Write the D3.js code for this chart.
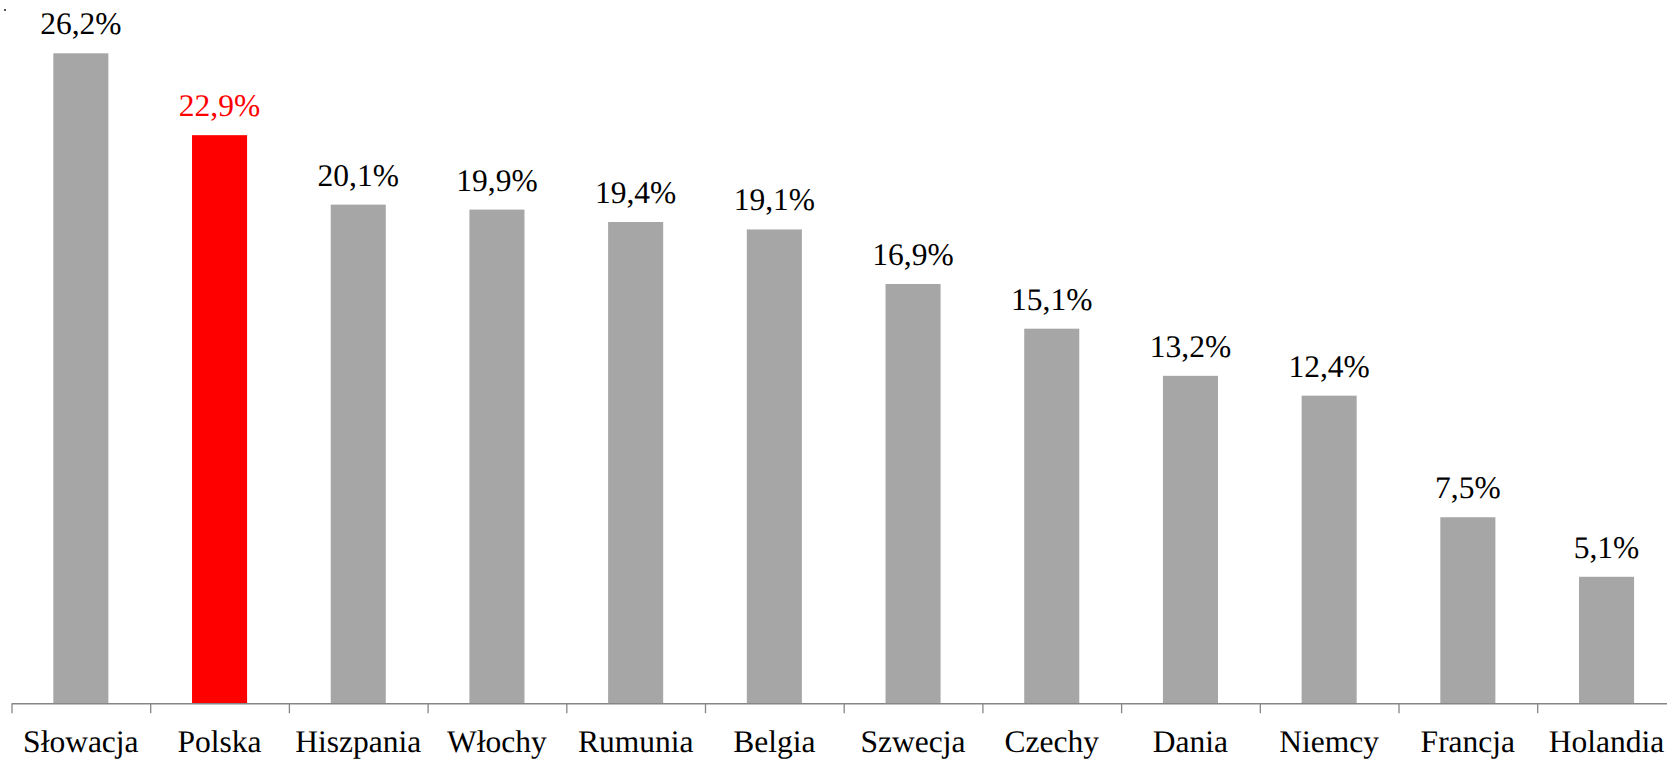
<!DOCTYPE html>
<html>
<head>
<meta charset="utf-8">
<script src="https://cdn.jsdelivr.net/npm/d3@7"></script>
<style>
  html, body { margin: 0; padding: 0; background: #fff; }
  svg { display: block; }
</style>
</head>
<body>
<svg id="chart" width="1667" height="759"></svg>
<script>
// Country names and shares (%)
const categories = ["Słowacja", "Polska", "Hiszpania", "Włochy", "Rumunia", "Belgia",
                    "Szwecja", "Czechy", "Dania", "Niemcy", "Francja", "Holandia"];
const values = [26.2, 22.9, 20.1, 19.9, 19.4, 19.1, 16.9, 15.1, 13.2, 12.4, 7.5, 5.1];
const valueLabels = ["26,2%", "22,9%", "20,1%", "19,9%", "19,4%", "19,1%",
                     "16,9%", "15,1%", "13,2%", "12,4%", "7,5%", "5,1%"];
const highlighted = ["Polska"];

const svg = d3.select("#chart");
const fontFamily = '"Liberation Serif", "Times New Roman", serif';

const left = 11.5, step = 138.7;
const baseY = 703.3;

const x = d3.scaleBand()
  .domain(categories)
  .range([left, left + step * categories.length])
  .padding(0);

const y = d3.scaleLinear()
  .domain([0, 26.2])
  .range([baseY, 53.3]);

const barW = x.bandwidth() * 0.397;

// bars
svg.append("g").selectAll("rect")
  .data(categories)
  .join("rect")
  .attr("x", (d) => x(d) + (x.bandwidth() - barW) / 2)
  .attr("y", (d, i) => y(values[i]))
  .attr("width", barW)
  .attr("height", (d, i) => baseY - y(values[i]))
  .attr("fill", (d) => highlighted.includes(d) ? "#FF0000" : "#A6A6A6");

// value labels above bars
svg.append("g")
  .style("font-family", fontFamily)
  .selectAll("text")
  .data(categories)
  .join("text")
  .attr("x", (d) => x(d) + x.bandwidth() / 2)
  .attr("y", (d, i) => y(values[i]) - 19)
  .attr("text-anchor", "middle")
  .style("font-family", fontFamily)
  .style("font-size", "31.5px")
  .style("text-rendering", "geometricPrecision")
  .attr("fill", (d) => highlighted.includes(d) ? "#FF0000" : "#000")
  .text((d, i) => valueLabels[i]);

// category axis: line with ticks at the band boundaries
const idx = d3.scaleLinear()
  .domain([0, categories.length])
  .range([left, left + step * categories.length]);

const axis = svg.append("g")
  .attr("transform", `translate(0,${baseY})`)
  .call(d3.axisBottom(idx)
    .tickValues(d3.range(categories.length + 1))
    .tickSize(10)
    .tickSizeOuter(0)
    .tickFormat(""));
axis.select(".domain").attr("stroke", "#868686").attr("stroke-width", 1.6);
axis.selectAll(".tick line").attr("stroke", "#868686").attr("stroke-width", 1.3);

// category labels
svg.append("g")
  .style("font-family", fontFamily)
  .selectAll("text")
  .data(categories)
  .join("text")
  .attr("x", (d) => x(d) + x.bandwidth() / 2)
  .attr("y", 752)
  .attr("text-anchor", "middle")
  .style("font-family", fontFamily)
  .style("font-size", "31.5px")
  .style("text-rendering", "geometricPrecision")
  .attr("fill", "#000")
  .text((d) => d);

// small marker at the top-left corner
svg.append("rect")
  .attr("x", 4).attr("y", 9).attr("width", 2).attr("height", 2)
  .attr("fill", "#555");
</script>
</body>
</html>
